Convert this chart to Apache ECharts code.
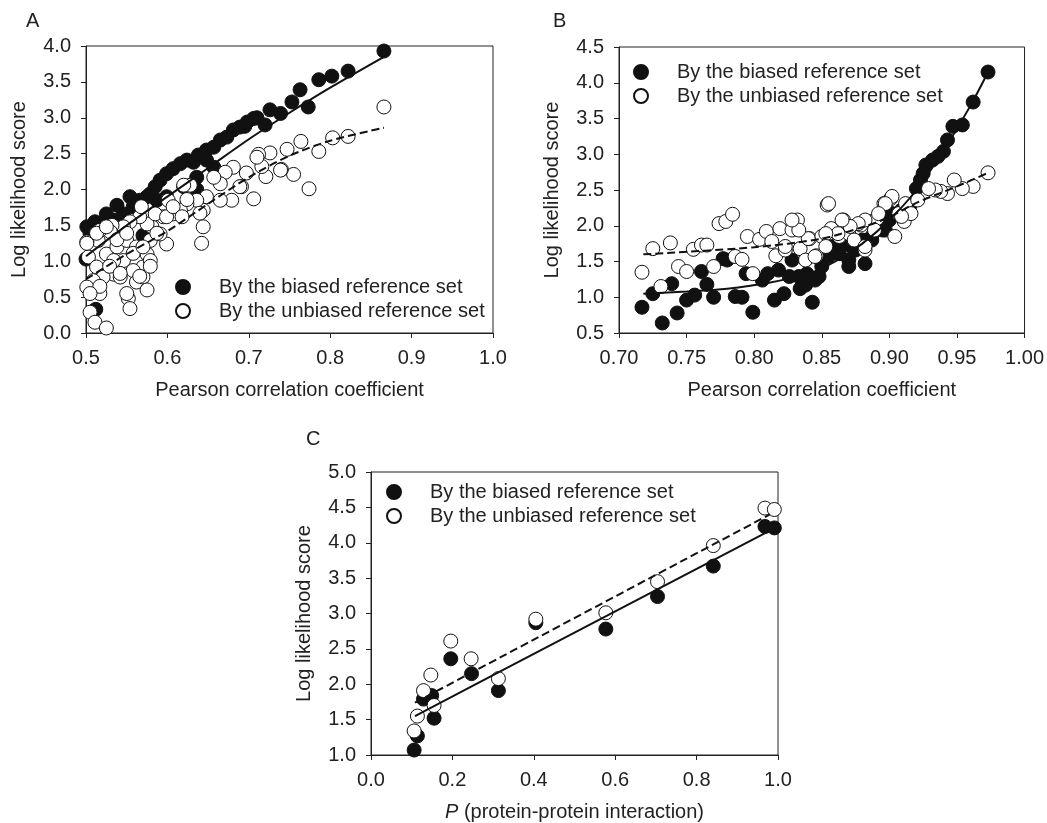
<!DOCTYPE html>
<html>
<head>
<meta charset="utf-8">
<script src="https://cdn.jsdelivr.net/npm/echarts@6/dist/echarts.min.js"></script>
<style>
  html, body { margin: 0; padding: 0; background: #fff; }
  #chart { width: 1047px; height: 823px; }
</style>
</head>
<body>
<div id="chart"></div>
<script>
// ---- panel A: Pearson correlation (0.5 - 1.0)
const biasedA = [
  [0.500, 1.03], [0.501, 1.48], [0.505, 1.38], [0.511, 1.55], [0.512, 0.33], [0.517, 1.52],
  [0.525, 1.66], [0.534, 1.57], [0.538, 1.78], [0.546, 1.66], [0.554, 1.90], [0.558, 1.76],
  [0.566, 1.85], [0.570, 1.36], [0.575, 1.90], [0.579, 1.94], [0.585, 2.04], [0.587, 1.85],
  [0.591, 2.13], [0.599, 2.22], [0.599, 1.90], [0.607, 2.29], [0.616, 2.36], [0.620, 2.04],
  [0.624, 2.41], [0.632, 2.38], [0.636, 2.17], [0.636, 2.00], [0.638, 2.48], [0.648, 2.55],
  [0.648, 2.41], [0.657, 2.59], [0.657, 2.31], [0.665, 2.69], [0.673, 2.73], [0.681, 2.83],
  [0.689, 2.87], [0.695, 2.88], [0.698, 2.94], [0.706, 2.99], [0.710, 3.00], [0.720, 2.90],
  [0.726, 3.11], [0.739, 3.06], [0.753, 3.22], [0.763, 3.39], [0.773, 3.15], [0.786, 3.53],
  [0.802, 3.58], [0.822, 3.65], [0.866, 3.93]
];
const unbiasedA = [
  [0.866, 3.15], [0.822, 2.74], [0.803, 2.72], [0.786, 2.53], [0.774, 2.01], [0.764, 2.67],
  [0.755, 2.21], [0.747, 2.56], [0.740, 2.28], [0.726, 2.51], [0.721, 2.18], [0.712, 2.49],
  [0.716, 2.32], [0.706, 1.87], [0.697, 2.23], [0.691, 2.04], [0.710, 2.45], [0.739, 2.27],
  [0.689, 2.04], [0.681, 2.31], [0.671, 2.24], [0.665, 2.08], [0.657, 2.17], [0.679, 1.85],
  [0.665, 1.85], [0.648, 1.90], [0.644, 1.71], [0.636, 1.85], [0.628, 2.06], [0.620, 2.06],
  [0.624, 1.80], [0.616, 1.71], [0.607, 1.66], [0.601, 1.85], [0.595, 1.62], [0.642, 1.25],
  [0.599, 1.24], [0.591, 1.38], [0.581, 1.48], [0.575, 1.52], [0.566, 1.62], [0.568, 1.76],
  [0.554, 1.55], [0.546, 1.48], [0.532, 1.50], [0.515, 1.29], [0.501, 1.27], [0.503, 1.06],
  [0.513, 0.92], [0.525, 1.10], [0.538, 1.20], [0.550, 1.29], [0.562, 1.20], [0.575, 1.10],
  [0.579, 1.29], [0.570, 0.92], [0.558, 0.87], [0.546, 1.01], [0.534, 0.82], [0.521, 0.78],
  [0.509, 0.73], [0.501, 0.64], [0.517, 0.55], [0.542, 0.78], [0.562, 0.71], [0.570, 0.78],
  [0.552, 0.48], [0.554, 0.34], [0.505, 0.29], [0.511, 0.15], [0.525, 0.07], [0.530, 1.41],
  [0.517, 1.43], [0.585, 1.66], [0.579, 1.01], [0.534, 1.01],
  [0.501, 1.25], [0.513, 1.39], [0.525, 1.48], [0.538, 1.30], [0.550, 1.39], [0.558, 1.11],
  [0.570, 1.20], [0.579, 0.93], [0.566, 0.79], [0.575, 0.60], [0.550, 0.55], [0.517, 0.65],
  [0.505, 0.55], [0.529, 0.93], [0.542, 0.83], [0.587, 1.39], [0.599, 1.62], [0.607, 1.76],
  [0.624, 1.86], [0.618, 1.62], [0.640, 1.67], [0.644, 1.48]
];
const fitBiasedA = [[0.5, 1.07], [0.55, 1.5], [0.6, 1.9], [0.65, 2.3], [0.7, 2.7], [0.75, 3.07], [0.8, 3.42], [0.866, 3.85]];
const fitUnbiasedA = [[0.5, 0.75], [0.55, 1.1], [0.6, 1.42], [0.65, 1.8], [0.7, 2.17], [0.75, 2.47], [0.8, 2.68], [0.866, 2.86]];

// ---- panel B: Pearson correlation (0.70 - 1.00)
const biasedB = [
  [0.717, 0.86], [0.725, 1.05], [0.732, 0.64], [0.739, 1.19], [0.743, 0.78], [0.750, 0.96],
  [0.756, 1.03], [0.761, 1.36], [0.765, 1.18], [0.770, 1.00], [0.777, 1.54], [0.780, 1.52],
  [0.786, 1.01], [0.791, 1.00], [0.794, 1.33], [0.799, 0.79], [0.806, 1.24], [0.810, 1.33],
  [0.815, 0.96], [0.818, 1.38], [0.822, 1.05], [0.826, 1.29], [0.828, 1.52], [0.834, 1.12],
  [0.838, 1.17], [0.843, 0.93], [0.839, 1.33], [0.845, 1.24], [0.850, 1.43], [0.855, 1.57],
  [0.858, 1.71], [0.863, 1.61], [0.865, 1.75], [0.870, 1.52], [0.875, 1.66], [0.882, 1.47],
  [0.880, 1.80], [0.887, 1.85], [0.895, 1.94], [0.900, 2.08], [0.904, 2.15], [0.909, 2.22],
  [0.973, 4.15], [0.962, 3.73], [0.954, 3.41], [0.947, 3.39], [0.943, 3.20], [0.940, 3.04],
  [0.936, 2.97], [0.932, 2.92], [0.927, 2.85], [0.925, 2.73], [0.923, 2.64], [0.920, 2.52],
  [0.915, 2.27], [0.902, 2.17], [0.897, 1.94], [0.887, 1.80], [0.870, 1.43], [0.862, 1.61],
  [0.833, 1.29], [0.848, 1.29], [0.872, 1.71]
];
const unbiasedB = [
  [0.717, 1.35], [0.725, 1.68], [0.731, 1.15], [0.738, 1.76], [0.744, 1.43], [0.750, 1.36],
  [0.755, 1.67], [0.761, 1.73], [0.765, 1.73], [0.770, 1.43], [0.774, 2.03], [0.779, 2.06],
  [0.784, 2.16], [0.786, 1.57], [0.791, 1.53], [0.795, 1.85], [0.799, 1.33], [0.804, 1.81],
  [0.809, 1.92], [0.813, 1.78], [0.816, 1.58], [0.819, 1.96], [0.823, 1.66], [0.828, 1.94],
  [0.832, 2.08], [0.834, 1.68], [0.838, 1.52], [0.841, 1.82], [0.846, 1.58], [0.850, 1.85],
  [0.854, 2.29], [0.857, 1.96], [0.863, 1.85], [0.866, 2.08], [0.870, 1.89], [0.874, 1.80],
  [0.879, 2.01], [0.882, 1.66], [0.887, 2.06], [0.891, 2.10], [0.896, 2.31], [0.901, 2.38],
  [0.904, 1.85], [0.907, 2.17], [0.911, 2.06], [0.912, 2.31], [0.973, 2.74], [0.962, 2.55],
  [0.954, 2.52], [0.948, 2.64], [0.943, 2.45], [0.938, 2.48], [0.934, 2.50], [0.929, 2.52],
  [0.921, 2.36], [0.916, 2.17], [0.909, 2.13], [0.902, 2.41], [0.897, 2.31], [0.892, 2.17],
  [0.889, 1.94], [0.882, 2.08], [0.877, 2.03], [0.871, 1.99], [0.865, 2.08], [0.855, 2.31],
  [0.862, 1.89], [0.853, 1.89], [0.845, 1.57], [0.840, 1.82], [0.833, 1.94], [0.828, 2.08],
  [0.823, 1.71], [0.882, 1.71], [0.853, 1.71]
];
const fitBiasedB = [[0.718, 1.05], [0.75, 1.08], [0.78, 1.12], [0.81, 1.2], [0.84, 1.33], [0.86, 1.5], [0.88, 1.75], [0.9, 2.08], [0.92, 2.5], [0.94, 3.05], [0.96, 3.68], [0.973, 4.15]];
const fitUnbiasedB = [[0.718, 1.6], [0.8, 1.7], [0.85, 1.82], [0.88, 1.98], [0.9, 2.12], [0.92, 2.32], [0.95, 2.55], [0.973, 2.74]];

// ---- panel C: P (protein-protein interaction)
const biasedC = [
  [0.106, 1.07], [0.114, 1.27], [0.129, 1.79], [0.149, 1.84], [0.155, 1.52], [0.196, 2.36],
  [0.247, 2.15], [0.313, 1.91], [0.405, 2.87], [0.577, 2.78], [0.704, 3.24], [0.841, 3.67],
  [0.968, 4.23], [0.991, 4.21]
];
const unbiasedC = [
  [0.106, 1.34], [0.114, 1.55], [0.129, 1.91], [0.147, 2.13], [0.155, 1.70], [0.196, 2.61],
  [0.246, 2.36], [0.313, 2.08], [0.405, 2.92], [0.577, 3.01], [0.704, 3.45], [0.841, 3.96],
  [0.968, 4.49], [0.991, 4.47]
];
const fitBiasedC = [[0.108, 1.55], [0.3, 2.13], [0.5, 2.73], [0.7, 3.33], [0.98, 4.17]];
const fitUnbiasedC = [[0.108, 1.74], [0.98, 4.40]];

const BIASED = 'By the biased reference set';
const UNBIASED = 'By the unbiased reference set';
const FONT = 'Liberation Sans, Arial, sans-serif';
const INK = '#222';
const FS = 20;

const grids = [
  { left: 86, top: 46, width: 407, height: 287 },
  { left: 619, top: 47, width: 408, height: 286 },
  { left: 371, top: 472, width: 407, height: 284 }
];

const axisCommon = {
  axisLine: { show: true, lineStyle: { color: INK, width: 1 } },
  axisTick: { show: true, inside: false, length: 5, lineStyle: { color: INK } },
  splitLine: { show: false },
  axisLabel: { color: INK, fontSize: FS, fontFamily: FONT, margin: 15 },
  nameTextStyle: { color: INK, fontSize: FS, fontFamily: FONT }
};

const xAxis = [
  { min: 0.5, max: 1.0, interval: 0.1, fmt: 1, name: 'Pearson correlation coefficient' },
  { min: 0.70, max: 1.00, interval: 0.05, fmt: 2, name: 'Pearson correlation coefficient' },
  { min: 0, max: 1.0, interval: 0.2, fmt: 1, name: '{i|P} (protein-protein interaction)' }
].map((a, i) => ({
  ...axisCommon,
  type: 'value',
  gridIndex: i,
  min: a.min,
  max: a.max,
  interval: a.interval,
  name: a.name,
  nameLocation: 'middle',
  nameGap: 47,
  nameTextStyle: { ...axisCommon.nameTextStyle, rich: { i: { fontStyle: 'italic', fontSize: FS, fontFamily: FONT, color: INK } } },
  axisLabel: { ...axisCommon.axisLabel, formatter: (v) => v.toFixed(a.fmt) }
}));

const yAxis = [
  { min: 0, max: 4.0 },
  { min: 0.5, max: 4.5 },
  { min: 1.0, max: 5.0 }
].map((a, i) => ({
  ...axisCommon,
  type: 'value',
  gridIndex: i,
  min: a.min,
  max: a.max,
  interval: 0.5,
  name: 'Log likelihood score',
  nameLocation: 'middle',
  nameGap: 57,
  axisLabel: { ...axisCommon.axisLabel, formatter: (v) => v.toFixed(1) }
}));

const panels = [
  [biasedA, unbiasedA, fitBiasedA, fitUnbiasedA],
  [biasedB, unbiasedB, fitBiasedB, fitUnbiasedB],
  [biasedC, unbiasedC, fitBiasedC, fitUnbiasedC]
];

const series = [];
panels.forEach((p, i) => {
  series.push({
    name: BIASED, type: 'scatter', xAxisIndex: i, yAxisIndex: i,
    symbol: 'circle', symbolSize: 14, z: 2,
    itemStyle: { color: '#111', borderColor: '#111', borderWidth: 1, opacity: 1 },
    data: p[0]
  });
  series.push({
    name: UNBIASED, type: 'scatter', xAxisIndex: i, yAxisIndex: i,
    symbol: 'circle', symbolSize: 14, z: 3,
    itemStyle: { color: '#fff', borderColor: '#111', borderWidth: 1, opacity: 1 },
    data: p[1]
  });
  series.push({
    name: 'fit-biased-' + i, type: 'line', xAxisIndex: i, yAxisIndex: i,
    showSymbol: false, smooth: 0.3, z: 4,
    lineStyle: { color: '#111', width: 2 },
    data: p[2]
  });
  series.push({
    name: 'fit-unbiased-' + i, type: 'line', xAxisIndex: i, yAxisIndex: i,
    showSymbol: false, smooth: 0.3, z: 4,
    lineStyle: { color: '#111', width: 2, type: [8, 4] },
    data: p[3]
  });
});

const legendPos = [
  { left: 170, top: 272 },
  { left: 628, top: 57 },
  { left: 381, top: 477 }
];
const legend = legendPos.map((pos) => ({
  data: [BIASED, UNBIASED],
  orient: 'vertical',
  left: pos.left,
  top: pos.top,
  itemWidth: 62,
  itemHeight: 14,
  itemGap: 4,
  selectedMode: false,
  textStyle: { color: INK, fontSize: FS, fontFamily: FONT, lineHeight: 20 }
}));

const panelLetters = [['A', 33, 22], ['B', 560, 22], ['C', 313, 440]];
const graphic = panelLetters.map(([t, x, y]) => ({
  type: 'text', left: x - 7, top: y - 11,
  style: { text: t, fill: INK, font: '20px ' + FONT }
}));

const option = {
  animation: false,
  backgroundColor: '#fff',
  grid: grids.map((g) => ({ ...g, show: true, borderColor: INK, borderWidth: 1, backgroundColor: 'transparent' })),
  xAxis,
  yAxis,
  legend,
  graphic,
  series
};

const myChart = echarts.init(document.getElementById('chart'));
myChart.setOption(option);
</script>
</body>
</html>
